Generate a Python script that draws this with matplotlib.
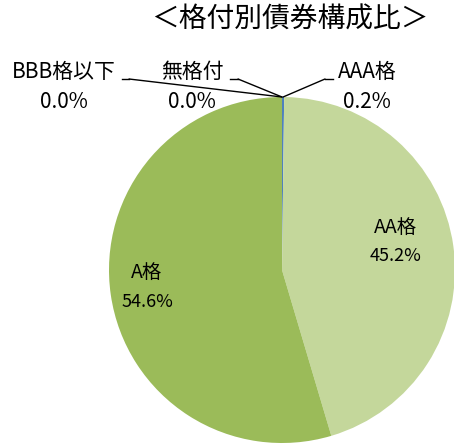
import numpy as np
import matplotlib
matplotlib.use("Agg")
import matplotlib.pyplot as plt
from matplotlib.lines import Line2D

plt.rcParams['font.family'] = ['Noto Sans CJK JP', 'DejaVu Sans']

# data
ratings = ['AAA格', 'AA格', 'A格', 'BBB格以下', '無格付']
shares = [0.2, 45.2, 54.6, 0.0, 0.0]
colors = ['#4F81BD', '#C4D79B', '#9BBB59', '#8064A2', '#F79646']
title = '＜格付別債券構成比＞'

W, H = 454, 446
fig = plt.figure(figsize=(W / 100, H / 100), dpi=100)

# pie area: centre ~ (282, 270) px, radius ~173 px
cx, cy, r = 282, 270, 173
ax = fig.add_axes([(cx - r) / W, (H - cy - r) / H, 2 * r / W, 2 * r / H])
wedges, _ = ax.pie(shares, colors=colors, startangle=90, counterclock=False,
                   radius=1, wedgeprops=dict(linewidth=0))
ax.set_xlim(-1, 1)
ax.set_ylim(-1, 1)
ax.set_aspect('equal')
ax.axis('off')


def fp(x, y):
    # pixel position (from top-left) to figure fraction
    return x / W, 1 - y / H


fig.text(*fp(290, 20), title, ha='center', va='center', fontsize=20)

# labels inside the pie
inside = {'AA格': (396, 227, 256), 'A格': (147, 272, 302)}
for name, share in zip(ratings, shares):
    if name in inside:
        x, y1, y2 = inside[name]
        fig.text(*fp(x, y1), name, ha='center', va='center', fontsize=14)
        fig.text(*fp(x, y2), f'{share:.1f}%', ha='center', va='center', fontsize=13)

# outside labels with leader lines: (text x, stub start x, stub end x)
outside = {
    'BBB格以下': (64, 122, 129),
    '無格付': (192, 230, 238),
    'AAA格': (367, 333, 325),
}
for w, name, share in zip(wedges, ratings, shares):
    if name not in outside:
        continue
    tx, s0, s1 = outside[name]
    fig.text(*fp(tx, 72), name, ha='center', va='center', fontsize=15)
    fig.text(*fp(tx, 102), f'{share:.1f}%', ha='center', va='center', fontsize=15)
    ang = np.deg2rad((w.theta1 + w.theta2) / 2)
    px, py = np.cos(ang), np.sin(ang)
    (a, b), (c, d) = fp(s0, 79), fp(s1, 79)
    fig.add_artist(Line2D([a, c], [b, d], color='black', lw=1))
    ax.annotate('', xy=(px, py), xycoords='data', xytext=(c, d),
                textcoords='figure fraction',
                arrowprops=dict(arrowstyle='-', color='black', lw=1,
                                shrinkA=0, shrinkB=0))

fig.savefig('out.png', dpi=100)
